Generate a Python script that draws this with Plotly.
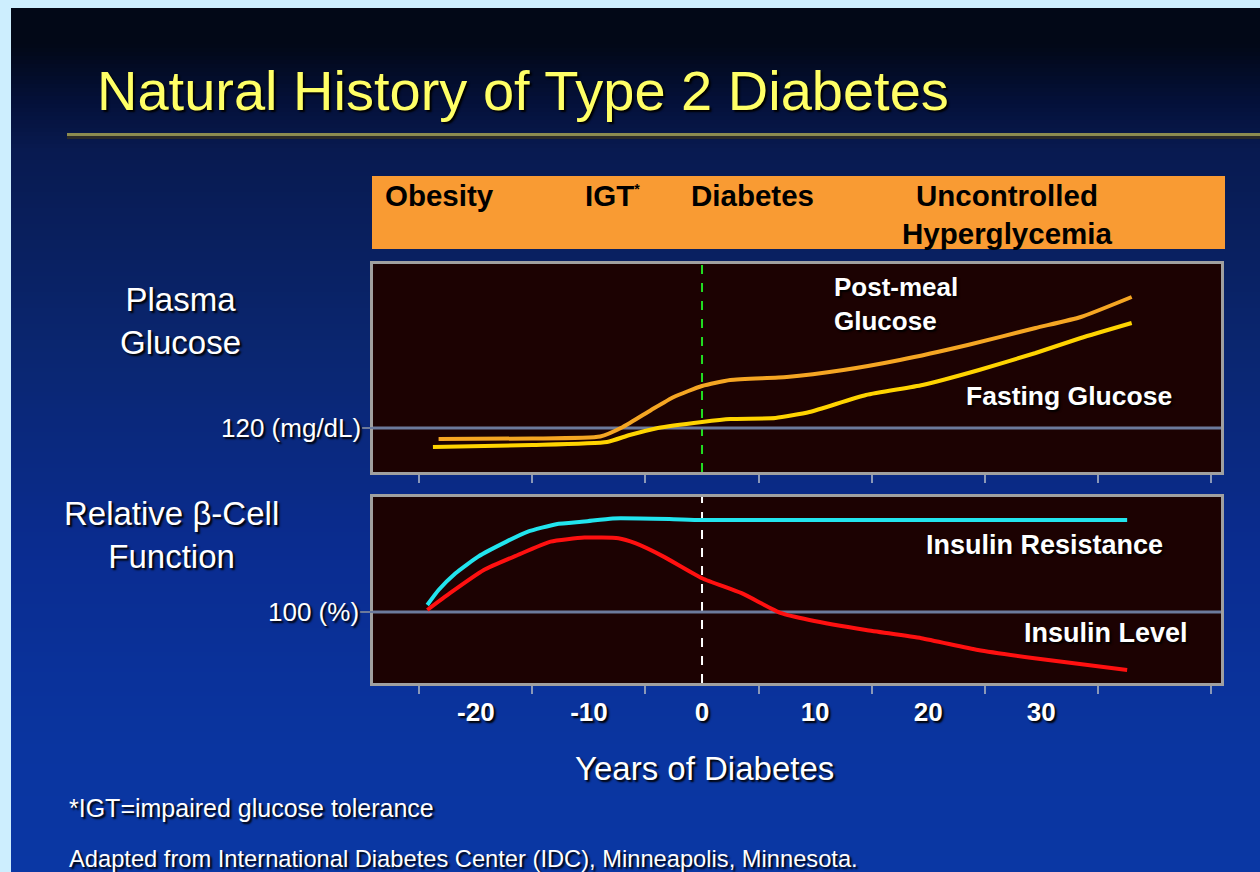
import plotly.graph_objects as go

# ---------------- data ----------------
POSTMEAL_YEARS = [-23.3, -15, -9, -7, -4.5, -2.5, 0, 2.5, 7.5, 12.5, 17.5, 23.5, 29.5, 33.5, 38]
POSTMEAL_GLUCOSE = [109, 109.5, 111.5, 121, 138, 151, 162, 168, 171, 178, 188, 203, 220, 231, 251]

FASTING_YEARS = [-23.8, -15, -8.4, -6.4, -3.9, 0, 2.5, 6.5, 9.5, 14.5, 19.5, 24.5, 29.5, 33.5, 38]
FASTING_GLUCOSE = [101, 103, 106, 113, 120, 126, 129, 130, 136, 153, 163, 178, 195, 210, 225]

RESIST_YEARS = [-24.3, -23.3, -21.8, -19.8, -17.3, -15.4, -12.9, -10.4, -7.9, -2.9, 0, 37.6]
RESIST_PCT = [103.5, 111, 119.4, 127.7, 135.2, 140.2, 143.9, 145.2, 146.8, 146.5, 146, 146]

INSULIN_YEARS = [-24.3, -22.3, -19.3, -16.3, -13.4, -10.4, -7.4, -5.9, -3.4, 0, 3.5, 7.0, 9.5,
                 14.5, 19.4, 24.4, 29.4, 37.6]
INSULIN_PCT = [101, 109.4, 121, 128.5, 135.2, 137.2, 136.9, 134.4, 127.7, 116.9, 109.4, 99.4, 96,
               91, 86.9, 81, 76.9, 71]

TICK_YEARS = [-20, -10, 0, 10, 20, 30]
TICK_TEXT = ["-20", "-10", "0", "10", "20", "30"]
GLUCOSE_THRESHOLD = 120
BETA_BASELINE = 100
DIABETES_ONSET = 0
STAGES = ["Obesity", "IGT<sup><span style='font-size:14px'>*</span></sup>", "Diabetes",
          "Uncontrolled<br>Hyperglycemia"]

# ---------------- helpers ----------------
W, H = 1260, 872
def px(x):
    return x / W
def py(y):
    return 1 - y / H

FONT = "Arial, 'Liberation Sans', sans-serif"
SHADOW = "2px 2px 2px #000000"

X_RANGE = [-29.1, 45.9]
TOP_Y_RANGE = [76, 284]
BOT_Y_RANGE = [64.5, 157.5]

fig = go.Figure()

fig.add_trace(go.Scatter(x=POSTMEAL_YEARS, y=POSTMEAL_GLUCOSE, mode="lines",
                         line=dict(color="#f5a623", width=4, shape="spline", smoothing=0.5),
                         xaxis="x", yaxis="y", hoverinfo="skip", showlegend=False))
fig.add_trace(go.Scatter(x=FASTING_YEARS, y=FASTING_GLUCOSE, mode="lines",
                         line=dict(color="#ffd400", width=4, shape="spline", smoothing=0.5),
                         xaxis="x", yaxis="y", hoverinfo="skip", showlegend=False))
fig.add_trace(go.Scatter(x=RESIST_YEARS, y=RESIST_PCT, mode="lines",
                         line=dict(color="#22e4ee", width=4, shape="spline", smoothing=0.5),
                         xaxis="x2", yaxis="y2", hoverinfo="skip", showlegend=False))
fig.add_trace(go.Scatter(x=INSULIN_YEARS, y=INSULIN_PCT, mode="lines",
                         line=dict(color="#ff1010", width=4, shape="spline", smoothing=0.5),
                         xaxis="x2", yaxis="y2", hoverinfo="skip", showlegend=False))

# ---------------- background gradient ----------------
stops = [(8, (2, 8, 23)), (45, (2, 8, 23)), (100, (4, 16, 56)), (150, (8, 26, 80)),
         (350, (10, 38, 112)), (550, (10, 44, 144)), (750, (10, 53, 160)), (872, (10, 55, 164))]

def color_at(y):
    for (y0, c0), (y1, c1) in zip(stops[:-1], stops[1:]):
        if y0 <= y <= y1:
            t = (y - y0) / (y1 - y0) if y1 > y0 else 0
            return "rgb(%d,%d,%d)" % tuple(round(a + (b - a) * t) for a, b in zip(c0, c1))
    return "rgb(%d,%d,%d)" % stops[-1][1]

shapes = []
step = 4
y = 8
while y < H:
    y2 = min(y + step, H)
    shapes.append(dict(type="rect", xref="paper", yref="paper", x0=px(11), x1=1,
                       y0=py(y2), y1=py(y), fillcolor=color_at(y + step / 2),
                       line=dict(width=0), layer="below"))
    y = y2

# title rule
shapes.append(dict(type="line", xref="paper", yref="paper", x0=px(67), x1=1,
                   y0=py(137.5), y1=py(137.5), line=dict(color="#2a2a2a", width=3), layer="below"))
shapes.append(dict(type="line", xref="paper", yref="paper", x0=px(67), x1=1,
                   y0=py(134.5), y1=py(134.5), line=dict(color="#8c8b50", width=3), layer="below"))

# orange stage band
shapes.append(dict(type="rect", xref="paper", yref="paper", x0=px(372), x1=px(1225),
                   y0=py(249), y1=py(176), fillcolor="#f99b33", line=dict(width=0), layer="below"))

# panel backgrounds
for xr, yr in (("x", "y"), ("x2", "y2")):
    shapes.append(dict(type="rect", xref=xr + " domain", yref=yr + " domain", x0=0, x1=1, y0=0, y1=1,
                       fillcolor="#1c0202", line=dict(width=0), layer="below"))

# reference lines
for xr, yr, val, rng in (("x", "y", GLUCOSE_THRESHOLD, X_RANGE), ("x2", "y2", BETA_BASELINE, X_RANGE)):
    shapes.append(dict(type="line", xref=xr, yref=yr, x0=rng[0], x1=rng[1], y0=val, y1=val,
                       line=dict(color="#6c7a9c", width=3), layer="below"))
shapes.append(dict(type="line", xref="paper", yref="y", x0=px(362), x1=px(373),
                   y0=GLUCOSE_THRESHOLD, y1=GLUCOSE_THRESHOLD, line=dict(color="#6c7a9c", width=2)))
shapes.append(dict(type="line", xref="paper", yref="y2", x0=px(360), x1=px(373),
                   y0=BETA_BASELINE, y1=BETA_BASELINE, line=dict(color="#6c7a9c", width=2)))

# onset lines
shapes.append(dict(type="line", xref="x", yref="y domain", x0=DIABETES_ONSET, x1=DIABETES_ONSET,
                   y0=0, y1=1, line=dict(color="#22dd22", width=2, dash="dash"), layer="below"))
shapes.append(dict(type="line", xref="x2", yref="y2 domain", x0=DIABETES_ONSET, x1=DIABETES_ONSET,
                   y0=0, y1=1, line=dict(color="#ffffff", width=2, dash="dash"), layer="below"))

# ---------------- annotations ----------------
ann = []
def text(t, x, y, size, color="#ffffff", xanchor="left", bold=False, align="left", shadow=SHADOW):
    ann.append(dict(text=t, x=px(x), y=py(y), xref="paper", yref="paper", xanchor=xanchor,
                    yanchor="middle", showarrow=False, align=align,
                    font=dict(family=FONT, size=size, color=color,
                              weight="bold" if bold else "normal", shadow=shadow)))

text("Natural History of Type 2 Diabetes", 95, 90, 56, color="#ffff66", shadow="2px 2px 2px #000000")
text(STAGES[0], 383, 195, 29.5, color="#000000", bold=True, shadow="none")
text(STAGES[1], 583, 195, 29.5, color="#000000", bold=True, shadow="none")
text(STAGES[2], 689, 195, 29.5, color="#000000", bold=True, shadow="none")
text(STAGES[3], 1007, 214, 29.5, color="#000000", bold=True, align="center", xanchor="center", shadow="none")

text("Post-meal<br>Glucose", 832, 304, 26, bold=True)
text("Fasting Glucose", 964, 396, 26.5, bold=True)
text("Insulin Resistance", 924, 545, 27, bold=True)
text("Insulin Level", 1022, 633, 27, bold=True)

text("Plasma<br>Glucose", 180, 321, 33, xanchor="center", align="center")
text("Relative β-Cell<br>Function", 171, 535, 33, xanchor="center", align="center")
text("120 (mg/dL)", 363, 428, 26, xanchor="right")
text("100 (%)", 361, 612, 26, xanchor="right")
text("Years of Diabetes", 704, 768, 33, xanchor="center")
text("*IGT=impaired glucose tolerance", 67, 808, 25)
text("Adapted from International Diabetes Center (IDC), Minneapolis, Minnesota.", 67, 859, 23.7)

# ---------------- axes ----------------
xdom = [px(373), px(1221)]
minor = dict(ticks="outside", tick0=-15, dtick=10, ticklen=8, tickwidth=2, tickcolor="#8a98b8")
axis_common = dict(range=X_RANGE, domain=xdom, showgrid=False, zeroline=False, showline=True,
                   mirror=True, linecolor="#a0a0a0", linewidth=3, ticks="", fixedrange=True)

fig.update_layout(
    width=W, height=H, autosize=False,
    margin=dict(l=0, r=0, t=0, b=0),
    paper_bgcolor="#cdeefe", plot_bgcolor="rgba(0,0,0,0)",
    xaxis=dict(**axis_common, anchor="y", showticklabels=False, minor=minor),
    yaxis=dict(range=TOP_Y_RANGE, domain=[py(472), py(264)], anchor="x", showgrid=False,
               zeroline=False, showline=True, mirror=True, linecolor="#a0a0a0", linewidth=3,
               showticklabels=False, ticks="", fixedrange=True),
    xaxis2=dict(**axis_common, anchor="y2", tickvals=TICK_YEARS, ticktext=TICK_TEXT,
                tickfont=dict(family=FONT, size=26, color="#ffffff", weight="bold",
                              shadow=SHADOW),
                ticklabelstandoff=4, minor=minor),
    yaxis2=dict(range=BOT_Y_RANGE, domain=[py(683), py(497)], anchor="x2", showgrid=False,
                zeroline=False, showline=True, mirror=True, linecolor="#a0a0a0", linewidth=3,
                showticklabels=False, ticks="", fixedrange=True),
    shapes=shapes,
    annotations=ann,
)

fig.write_html("out.html", config={"displayModeBar": False},
               post_script="document.body.style.margin='0px';document.body.style.overflow='hidden';")
